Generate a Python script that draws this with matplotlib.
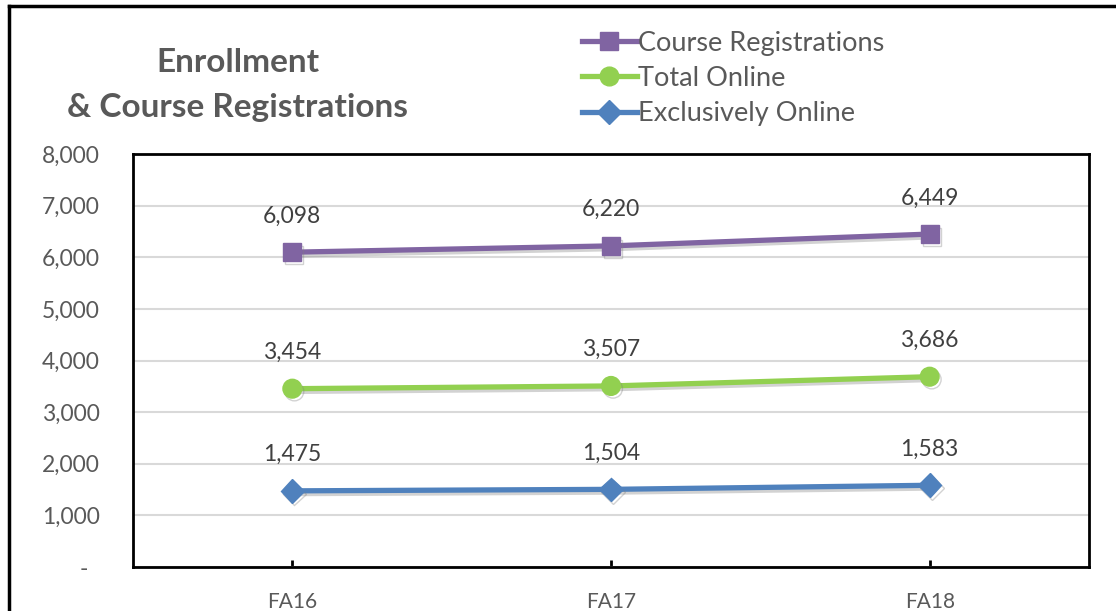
import matplotlib
matplotlib.use("Agg")
import matplotlib.pyplot as plt
import matplotlib.patheffects as pe
from matplotlib.lines import Line2D

categories = ["FA16", "FA17", "FA18"]
course_registrations = [6098, 6220, 6449]
total_online = [3454, 3507, 3686]
exclusively_online = [1475, 1504, 1583]
y_ticks = [0, 1000, 2000, 3000, 4000, 5000, 6000, 7000, 8000]

plt.rcParams['font.family'] = ['Lato', 'DejaVu Sans']
TXT = '#595959'

fig = plt.figure(figsize=(11.16, 6.11), dpi=100)
ax = fig.add_axes([133/1116, 44/611, (1089-133)/1116, (567-154)/611])

x = list(range(len(categories)))
series = [
    (course_registrations, '#8064A2', 's', 13, "Course Registrations"),
    (total_online, '#92D050', 'o', 13.5, "Total Online"),
    (exclusively_online, '#4F81BD', 'D', 12, "Exclusively Online"),
]
shadow = [pe.SimpleLineShadow(offset=(1.5, -2), shadow_color='gray', alpha=0.35), pe.Normal()]
for vals, col, mk, ms, lab in series:
    ax.plot(x, vals, color=col, lw=3.8, marker=mk, markersize=ms,
            markerfacecolor=col, markeredgecolor=col, path_effects=shadow, zorder=3, label=lab)
    for xi, v in zip(x, vals):
        ax.annotate(f"{v:,}", (xi, v), xytext=(0, 26), textcoords='offset points',
                    ha='center', va='center', fontsize=16.5, color='#404040')

ax.set_xlim(-0.5, 2.5)
ax.set_ylim(0, 8000)
ax.set_yticks(y_ticks)
ax.set_yticklabels([f"{t:,}" if t else "-  " for t in y_ticks], fontsize=16.5, color=TXT)
ax.set_xticks(x)
ax.set_xticklabels(categories, fontsize=15, color=TXT)
ax.tick_params(axis='y', length=0, pad=24)
ax.tick_params(axis='x', direction='in', length=5, width=2, color='black', pad=18)
ax.grid(axis='y', color='#D9D9D9', lw=1.5)
ax.set_axisbelow(True)
for s in ax.spines.values():
    s.set_linewidth(2)
    s.set_color('black')

fig.text(238/1116, 1 - 62/611, "Enrollment", ha='center', va='center',
         fontsize=24, fontweight='bold', color=TXT)
fig.text(238/1116, 1 - 107/611, "& Course Registrations", ha='center', va='center',
         fontsize=24, fontweight='bold', color=TXT)

handles = [Line2D([0], [0], color=c, lw=3.8, marker=m, markersize=ms, markerfacecolor=c,
                  markeredgecolor=c) for _, c, m, ms, _ in series]
labels = [s[4] for s in series]
fig.legend(handles, labels, loc='upper left', bbox_to_anchor=(568/1116, 1 - 17/611),
           frameon=False, fontsize=19.5, labelcolor=TXT, handlelength=2.05,
           handletextpad=0.05, labelspacing=0.38, borderpad=0)

# outer chart border (left and top edges visible)
fig.add_artist(Line2D([9/1116, 9/1116], [0, 1 - 6/611], color='black', lw=2.5,
                      transform=fig.transFigure))
fig.add_artist(Line2D([9/1116, 1], [1 - 6/611, 1 - 6/611], color='black', lw=2.5,
                      transform=fig.transFigure))

fig.savefig("out.png", dpi=100)
